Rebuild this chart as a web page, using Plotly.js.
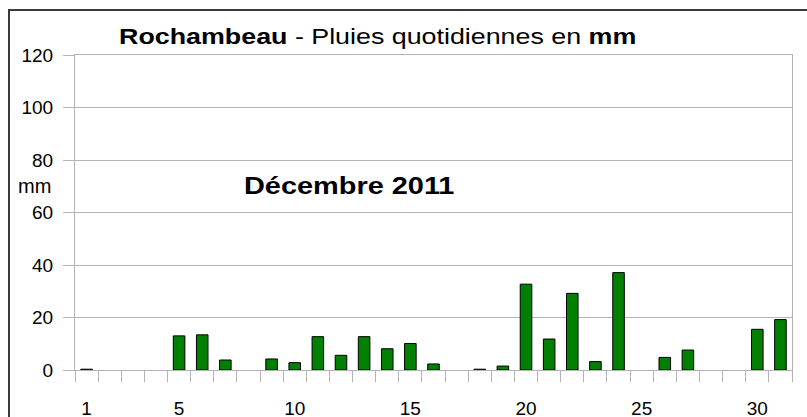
<!DOCTYPE html>
<html>
<head>
<meta charset="utf-8">
<script src="https://cdn.plot.ly/plotly-3.0.1.min.js"></script>
<style>
  html, body { margin: 0; padding: 0; background: #ffffff; }
  #frame { position: absolute; left: 8px; top: 9px; width: 900px; height: 500px;
           border-left: 2px solid #3a3a3a; border-top: 2px solid #3a3a3a; }
  #chart { position: absolute; left: 0; top: 0; width: 807px; height: 417px; }
</style>
</head>
<body>
<div id="frame"></div>
<div id="chart"></div>
<script>
// Days of December 2011
const days = [1,2,3,4,5,6,7,8,9,10,11,12,13,14,15,16,17,18,19,20,21,22,23,24,25,26,27,28,29,30,31];
// Daily rainfall (mm)
const rain = [0.3,0,0,0,13.0,13.4,3.8,0,4.2,2.8,12.7,5.6,12.7,8.1,10.1,2.3,0,0.3,1.5,32.7,11.8,29.2,3.2,37.1,0,4.8,7.6,0,0,15.5,19.2];
// Tick labels shown on the x axis
const xTickVals = [1,5,10,15,20,25,30];
const xTickText = ["1","5","10","15","20","25","30"];
// Tick boundaries between days
const xBounds = [0.5,1.5,2.5,3.5,4.5,5.5,6.5,7.5,8.5,9.5,10.5,11.5,12.5,13.5,14.5,15.5,16.5,17.5,18.5,19.5,20.5,21.5,22.5,23.5,24.5,25.5,26.5,27.5,28.5,29.5,30.5,31.5];
const yTickVals = [0,20,40,60,80,100,120];

const font = "Liberation Sans, Arial, sans-serif";
const gray = "#b3b3b3";

const trace = {
  type: "bar",
  x: days,
  y: rain,
  width: 0.5,
  marker: { color: "#008000", line: { color: "#000000", width: rain.map(v => v > 0 ? 1 : 0) } },
  hoverinfo: "x+y"
};

const layout = {
  width: 807, height: 417,
  margin: { l: 75, r: 15, t: 55, b: 47 },
  paper_bgcolor: "rgba(0,0,0,0)",
  plot_bgcolor: "rgba(0,0,0,0)",
  font: { family: font, color: "#000000", size: 19 },
  showlegend: false,
  title: {
    text: "<b>Rochambeau</b> - Pluies quotidiennes en <b>mm</b>",
    font: { family: font, size: 22, color: "#000000" },
    x: 0.468, xanchor: "center",
    y: 0.914, yanchor: "middle"
  },
  xaxis: {
    range: [0.5, 31.5],
    tickmode: "array",
    tickvals: xTickVals,
    ticktext: xTickText,
    ticks: "",
    ticklabelstandoff: 21,
    tickfont: { family: font, size: 19, color: "#000000" },
    showgrid: false,
    zeroline: false,
    showline: true, mirror: true, linecolor: gray, linewidth: 1,
    minor: { tickmode: "array", tickvals: xBounds, ticks: "outside", ticklen: 11, tickcolor: gray, tickwidth: 1, showgrid: false }
  },
  yaxis: {
    range: [0, 120],
    tickmode: "array",
    tickvals: yTickVals,
    ticks: "outside", ticklen: 11, tickcolor: gray, tickwidth: 1,
    ticklabelstandoff: 6,
    tickfont: { family: font, size: 19, color: "#000000" },
    showgrid: true, gridcolor: gray, gridwidth: 1,
    zeroline: false,
    showline: true, mirror: true, linecolor: gray, linewidth: 1
  },
  annotations: [
    { text: "mm", xref: "paper", yref: "paper", x: -0.031, y: 0.584, xanchor: "right", yanchor: "middle",
      showarrow: false, font: { family: font, size: 20, color: "#000000" } },
    { text: "<b>Décembre 2011</b>", xref: "paper", yref: "paper", x: 0.382, y: 0.587, xanchor: "center", yanchor: "middle",
      showarrow: false, font: { family: font, size: 24.5, color: "#000000" } }
  ]
};

function stretchText(el, s) {
  if (!el) return;
  const bb = el.getBBox();
  const cx = bb.x + bb.width / 2;
  const prev = el.getAttribute("transform") || "";
  el.setAttribute("transform", prev + " translate(" + cx + ",0) scale(" + s + ",1) translate(" + (-cx) + ",0)");
}

Plotly.newPlot("chart", [trace], layout, { displayModeBar: false, staticPlot: true }).then(function (gd) {
  stretchText(gd.querySelector(".gtitle"), 1.22);
  const ann = gd.querySelectorAll(".annotation-text");
  stretchText(ann[1], 1.18);
});
</script>
</body>
</html>
